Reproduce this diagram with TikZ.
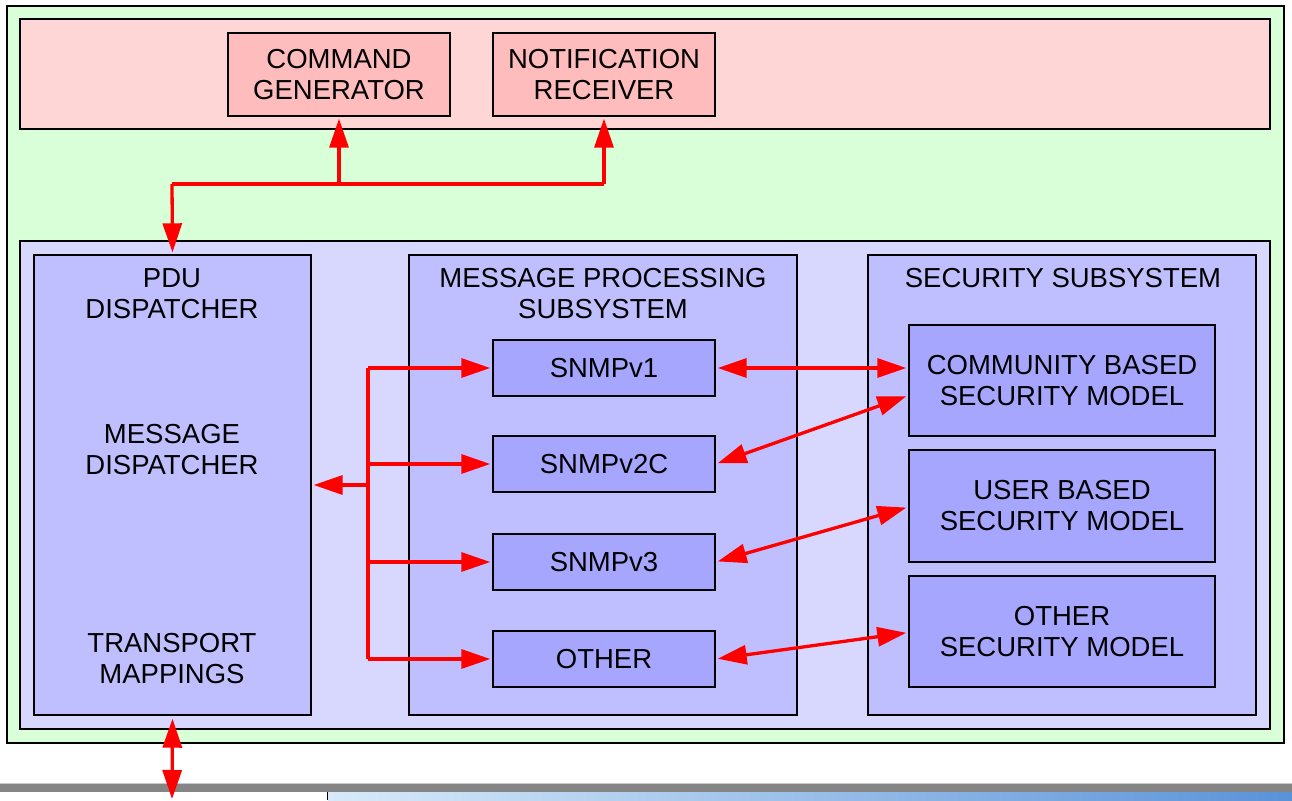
\documentclass[tikz,border=0pt]{standalone}
\usepackage{fontspec}
\setmainfont{Liberation Sans}
\usetikzlibrary{arrows.meta,calc}
\definecolor{gfill}{HTML}{D9FFD9}
\definecolor{pinkout}{HTML}{FFD6D6}
\definecolor{pinkin}{HTML}{FFBCBC}
\definecolor{blueout}{HTML}{D8D8FF}
\definecolor{bluemid}{HTML}{BFBFFF}
\definecolor{bluein}{HTML}{A6A6FF}
\definecolor{barcol}{HTML}{858585}
\definecolor{barlite}{HTML}{C8C8C8}
\definecolor{gradL}{HTML}{D8EAF9}
\definecolor{gradR}{HTML}{5A92D8}
\begin{document}
\begin{tikzpicture}[x=1pt,y=-1pt,
 box/.style={draw=black, line width=1.4pt, inner sep=0pt, align=center, font=\fontsize{27.5}{31}\selectfont},
 lbl/.style={font=\fontsize{27.5}{31}\selectfont, align=center, inner sep=0pt},
 wire/.style={draw=red, line width=3.3pt},
 arr/.style={wire, -{Triangle[length=29pt,width=19pt]}, shorten >=2pt},
 darr/.style={wire, {Triangle[length=29pt,width=19pt]}-{Triangle[length=29pt,width=19pt]}, shorten >=2pt, shorten <=2pt},
]
\useasboundingbox (0,0) rectangle (1292,800);
% bottom strip
\fill[barcol] (0,784) rectangle (1292,792);
\draw[barlite, line width=1pt] (0,783.5) -- (1292,783.5);
\shade[left color=gradL, right color=gradR] (328,792) rectangle (1292,800);
\draw[black, line width=1.2pt] (327.5,792) -- (327.5,800);
% containers
\node[box, fill=gfill, minimum width=1277, minimum height=737] (outer) at (645.5,374.5) {};
\node[box, fill=pinkout, minimum width=1250, minimum height=110] (apps) at (645,74) {};
\node[box, fill=pinkin, minimum width=222, minimum height=83] (cg) at (339,74.5) {COMMAND\\GENERATOR};
\node[box, fill=pinkin, minimum width=222, minimum height=83] (nr) at (604,74.5) {NOTIFICATION\\RECEIVER};
\node[box, fill=blueout, minimum width=1250, minimum height=488] (engine) at (645,485) {};
\node[box, fill=bluemid, minimum width=277, minimum height=460] (pdu) at (172.5,485) {};
\node[box, fill=bluemid, minimum width=388, minimum height=460] (mp) at (603,485) {};
\node[box, fill=bluemid, minimum width=388, minimum height=460] (sec) at (1062,485) {};
\node[lbl] (pdulbl) at (172,294) {PDU\\DISPATCHER};
\node[lbl] (msglbl) at (172,450) {MESSAGE\\DISPATCHER};
\node[lbl] (trlbl) at (172,659) {TRANSPORT\\MAPPINGS};
\node[lbl] (mplbl) at (603,294) {MESSAGE PROCESSING\\SUBSYSTEM};
\node[lbl] (seclbl) at (1063,278) {SECURITY SUBSYSTEM};
\node[box, fill=bluein, minimum width=222, minimum height=56] (v1) at (604,368) {SNMPv1};
\node[box, fill=bluein, minimum width=222, minimum height=56] (v2c) at (604,464) {SNMPv2C};
\node[box, fill=bluein, minimum width=222, minimum height=56] (v3) at (604,562) {SNMPv3};
\node[box, fill=bluein, minimum width=222, minimum height=56] (oth) at (604,659) {OTHER};
\node[box, fill=bluein, minimum width=306, minimum height=111] (comm) at (1062,380.5) {COMMUNITY BASED\\SECURITY MODEL};
\node[box, fill=bluein, minimum width=306, minimum height=112] (user) at (1062,506) {USER BASED\\SECURITY MODEL};
\node[box, fill=bluein, minimum width=306, minimum height=111] (osec) at (1062,631.5) {OTHER\\SECURITY MODEL};
% top connectors
\coordinate (j0) at (172,184);
\coordinate (j1) at (339,184);
\coordinate (j2) at (604,184);
\draw[wire] (j0) -- (j2);
\draw[arr] (j1) -- (cg.south);
\draw[arr] (j2) -- (nr.south);
\draw[arr] (j0) -- (pdu.north);
% dispatcher to message processing
\coordinate (tx) at (368,0);
\coordinate (tm) at (368,485);
\draw[wire] (v1.west -| tx) -- (oth.west -| tx);
\draw[arr] (v1.west -| tx) -- (v1.west);
\draw[arr] (v2c.west -| tx) -- (v2c.west);
\draw[arr] (v3.west -| tx) -- (v3.west);
\draw[arr] (oth.west -| tx) -- (oth.west);
\draw[arr] (tm) -- (pdu.east);
% message processing to security
\draw[darr] (v1.east) -- (v1.east -| comm.west);
\draw[darr] (v2c.east) -- ($(comm.west)+(0,15)$);
\draw[darr] (v3.east) -- ($(user.west)+(0,1)$);
\draw[darr] (oth.east) -- ($(osec.west)+(0,1)$);
% bottom
\coordinate (bot) at (172,799);
\draw[wire, {Triangle[length=29pt,width=19pt]}-{Triangle[length=29pt,width=19pt]}, shorten <=3pt] (pdu.south) -- (bot);
\end{tikzpicture}
\end{document}
